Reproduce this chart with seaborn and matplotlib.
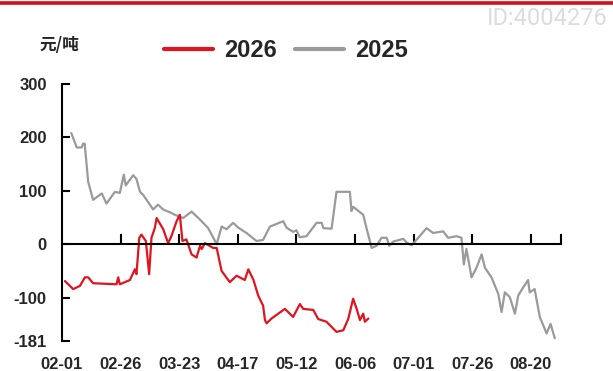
import numpy as np
import pandas as pd
import matplotlib
matplotlib.use("Agg")
import matplotlib.pyplot as plt
from matplotlib.lines import Line2D
import seaborn as sns

# days counted from 02-01
days_2026 = [1.3, 2.7, 4.8, 7.7, 9.8, 11.2, 13.3, 23.3, 24.0, 24.7, 29.0, 31.1, 31.8, 33.0, 33.9,
             35.8, 37.2, 38.2, 39.6, 40.4, 43.2, 45.3, 46.7, 48.9, 50.3, 51.4, 53.1, 55.3, 57.4,
             58.9, 59.6, 61.0, 64.5, 66.0, 68.1, 71.6, 74.5, 78.0, 79.5, 81.7, 83.7, 85.8, 86.6,
             87.3, 89.4, 95.1, 97.2, 98.6, 101.5, 102.9, 107.2, 109.3, 112.8, 117.1, 120.0,
             122.1, 124.2, 125.7, 127.1, 128.5, 129.2, 130.7]
vals_2026 = [-69, -75, -84, -78, -62, -62, -73, -75, -62, -75, -67, -47, -56, 12, 18,
             6, -56, 12, 30, 49, 28, 2, 15, 43, 55, 6, 9, -19, -25,
             -3, -9, 2, -7, -7, -50, -71, -59, -67, -47, -67, -96, -115, -142,
             -148, -139, -121, -130, -136, -112, -121, -123, -140, -145, -164, -161,
             -140, -102, -121, -142, -130, -145, -139]

days_2025 = [4.0, 6.3, 8.4, 9.0, 9.7, 11.2, 13.3, 17.0, 19.0, 22.6, 24.7, 26.4, 27.2, 30.4,
             31.8, 33.3, 34.7, 38.9, 41.0, 43.1, 45.9, 48.2, 51.7, 55.3, 58.9, 62.4, 66.0,
             68.1, 70.2, 73.0, 75.2, 78.7, 83.0, 85.8, 88.7, 94.4, 95.8, 98.6, 100.0, 101.4,
             104.3, 108.6, 110.8, 111.5, 115.0, 117.1, 122.8, 123.5, 124.2, 128.5, 129.9,
             132.1, 134.2, 136.3, 138.5, 139.6, 141.3, 145.6, 147.0, 149.2, 150.6, 155.5,
             158.3, 162.6, 164.7, 168.3, 170.4, 171.4, 172.5, 174.7, 176.8, 179.0, 180.4,
             183.2, 186.1, 187.5, 188.9, 191.0, 193.2, 194.6, 196.7, 198.8, 199.5, 201.6,
             203.8, 206.7, 208.4, 210.2]
vals_2025 = [208, 181, 181, 188, 188, 117, 83, 95, 76, 98, 96, 130, 110, 129,
             122, 98, 92, 65, 74, 65, 60, 55, 49, 61, 46, 30, 0,
             33, 28, 40, 31, 21, 6, 8, 33, 43, 31, 23, 26, 13,
             15, 40, 40, 30, 29, 98, 98, 62, 70, 55, 30,
             -7, -3, 12, 12, -3, 5, 10, 3, -2, 5, 30,
             21, 24, 12, 15, 12, -38, -9, -62, -44, -19, -44,
             -62, -93, -127, -90, -99, -130, -96, -81, -67, -90, -84,
             -136, -167, -149, -176]

tick_days = [0, 25, 50, 75, 100, 125, 150, 175, 200]
tick_labels = ["02-01", "02-26", "03-23", "04-17", "05-12", "06-06", "07-01", "07-26", "08-20"]
y_ticks = [300, 200, 100, 0, -100, -181]

df26 = pd.DataFrame({"day": days_2026, "value": vals_2026})
df25 = pd.DataFrame({"day": days_2025, "value": vals_2025})

sns.set_style("white")
plt.rcParams["font.family"] = ["Liberation Sans", "DejaVu Sans"]

red = "#e0141e"
gray = "#9a9a9a"

fig = plt.figure(figsize=(6.13, 3.71), dpi=100)
ax = fig.add_axes([0.101, 0.081, 0.814, 0.693])

sns.lineplot(data=df25, x="day", y="value", ax=ax, color=gray, linewidth=1.6)
sns.lineplot(data=df26, x="day", y="value", ax=ax, color=red, linewidth=1.6)

ax.set_xlim(0, 212.8)
ax.set_ylim(-181, 300)
ax.set_xlabel("")
ax.set_ylabel("")

for s in ["top", "right"]:
    ax.spines[s].set_visible(False)
ax.spines["bottom"].set_position(("data", 0))
for s in ["left", "bottom"]:
    ax.spines[s].set_linewidth(1.5)
    ax.spines[s].set_color("black")

ax.set_xticks(tick_days[1:] + [212.8])
ax.set_xticklabels([])
ax.tick_params(axis="x", direction="in", length=7, width=1.5, color="black", bottom=True)
ax.set_yticks(y_ticks)
ax.set_yticklabels([str(v) for v in y_ticks], fontsize=12, fontweight="bold")
ax.tick_params(axis="y", direction="in", length=6, width=1.5, color="black", left=True, pad=11)

trans = ax.get_xaxis_transform()
for d, lab in zip(tick_days, tick_labels):
    ax.text(d, -0.09, lab, transform=trans, ha="center", va="center",
            fontsize=12, fontweight="bold")

# header elements
fig.add_artist(Line2D([0, 1], [0.991, 0.991], color="#d0101a", linewidth=2.6))
fig.text(0.992, 0.949, "ID:4004276", ha="right", va="center", fontsize=17,
         color="#dcdcdc", family=["Roboto", "DejaVu Sans"])
fig.text(0.065, 0.879, "元/吨", ha="left", va="center", fontsize=12,
         fontweight="bold", family=["Noto Sans CJK SC", "DejaVu Sans"])

handles = [Line2D([], [], color=red, linewidth=3), Line2D([], [], color=gray, linewidth=3)]
fig.legend(handles, ["2026", "2025"], loc="center", bbox_to_anchor=(0.467, 0.863), ncol=2,
           frameon=False, prop={"size": 17, "weight": "bold"}, handlelength=2.08,
           columnspacing=0.76, handletextpad=0.47)

fig.savefig("out.png", dpi=100)
